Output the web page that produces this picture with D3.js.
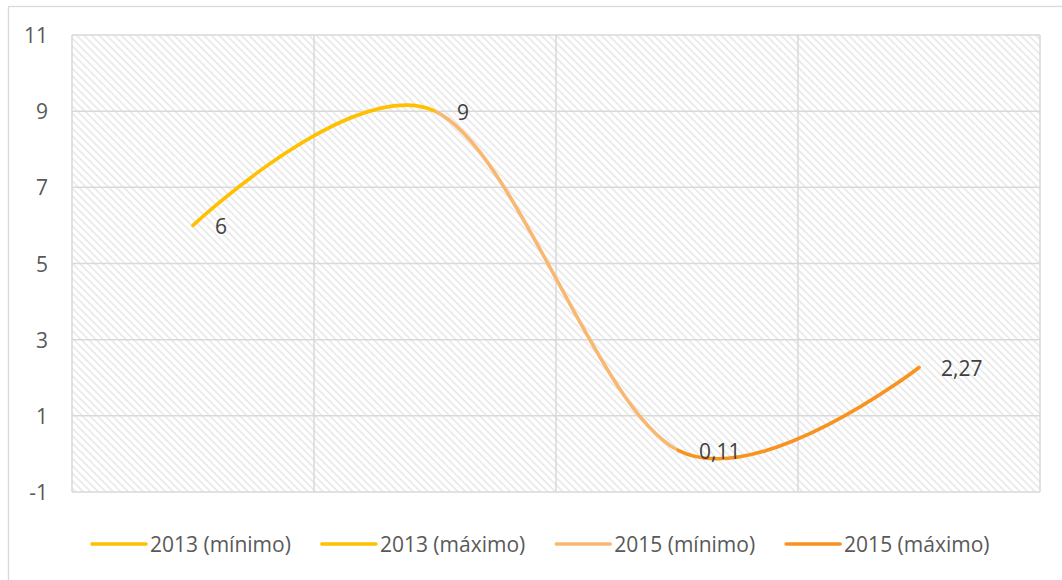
<!DOCTYPE html>
<html>
<head>
<meta charset="utf-8">
<script src="https://cdn.jsdelivr.net/npm/d3@7"></script>
<style>
  body { margin: 0; background: #fff; }
  svg { display: block; }
  text { font-family: "Open Sans", Lato, sans-serif; }
</style>
</head>
<body>
<svg id="chart" width="1062" height="580"></svg>
<script>
// Categories along the x axis and the plotted values
const categories = ["2013 (mínimo)", "2013 (máximo)", "2015 (mínimo)", "2015 (máximo)"];
const values = [6, 9, 0.11, 2.27];
const valueLabels = ["6", "9", "0,11", "2,27"];

// Legend entries and their colours
const seriesNames = ["2013 (mínimo)", "2013 (máximo)", "2015 (mínimo)", "2015 (máximo)"];
const seriesColors = ["#FFC000", "#FFC000", "#F9B872", "#F7931E"];

// Y axis ticks
const yTicks = [-1, 1, 3, 5, 7, 9, 11];

const FONT = 21;
const svg = d3.select("#chart");
const plot = { left: 72, right: 1040, top: 35, bottom: 492 };

// Outer chart frame
svg.append("rect")
  .attr("x", 8.5).attr("y", 6.5)
  .attr("width", 1100).attr("height", 700)
  .attr("fill", "#fff").attr("stroke", "#d9d9d9").attr("stroke-width", 1.3);

const x = d3.scaleBand().domain(categories).range([plot.left, plot.right]).padding(0);
const y = d3.scaleLinear().domain([-1, 11]).range([plot.bottom, plot.top]);
const cx = c => x(c) + x.bandwidth() / 2;

// Diagonal hatch fill for the plot area
const defs = svg.append("defs");
const pat = defs.append("pattern")
  .attr("id", "hatch")
  .attr("patternUnits", "userSpaceOnUse")
  .attr("width", 5.3).attr("height", 5.3)
  .attr("patternTransform", "rotate(45)");
pat.append("line")
  .attr("x1", 0).attr("y1", 2.65).attr("x2", 5.3).attr("y2", 2.65)
  .attr("stroke", "#e0e0e0").attr("stroke-width", 1.2);

svg.append("rect")
  .attr("x", plot.left).attr("y", plot.top)
  .attr("width", plot.right - plot.left).attr("height", plot.bottom - plot.top)
  .attr("fill", "url(#hatch)");

// Horizontal gridlines
svg.append("g")
  .selectAll("line")
  .data(yTicks)
  .join("line")
  .attr("x1", plot.left).attr("x2", plot.right)
  .attr("y1", d => y(d)).attr("y2", d => y(d))
  .attr("stroke", "#d9d9d9").attr("stroke-width", 1.5);

// Vertical gridlines at category boundaries
const bounds = categories.map(c => x(c)).concat([x(categories[categories.length - 1]) + x.bandwidth()]);
svg.append("g")
  .selectAll("line")
  .data(bounds)
  .join("line")
  .attr("x1", d => d).attr("x2", d => d)
  .attr("y1", plot.top).attr("y2", plot.bottom)
  .attr("stroke", "#d9d9d9").attr("stroke-width", 1.5);

// Y tick labels
svg.append("g")
  .selectAll("text")
  .data(yTicks)
  .join("text")
  .attr("x", 48).attr("y", d => y(d))
  .attr("text-anchor", "end")
  .attr("dominant-baseline", "central")
  .attr("font-size", FONT)
  .attr("fill", "#595959")
  .text(d => d);

// Smoothed line, coloured per segment
const pts = categories.map((c, i) => [cx(c), y(values[i])]);
const line = d3.line().curve(d3.curveCardinal.tension(0));
const pathD = line(pts);

for (let i = 0; i < pts.length - 1; i++) {
  const x0 = i === 0 ? 0 : pts[i][0];
  const x1 = i === pts.length - 2 ? 1062 : pts[i + 1][0];
  defs.append("clipPath").attr("id", "seg" + i)
    .append("rect")
    .attr("x", x0).attr("y", 0)
    .attr("width", x1 - x0).attr("height", 580);
  svg.append("path")
    .attr("d", pathD)
    .attr("clip-path", `url(#seg${i})`)
    .attr("fill", "none")
    .attr("stroke", seriesColors[i + 1])
    .attr("stroke-width", 3.6)
    .attr("stroke-linecap", "round");
}

// Data labels to the right of each point
svg.append("g")
  .selectAll("text")
  .data(pts)
  .join("text")
  .attr("x", d => d[0] + 22)
  .attr("y", d => d[1] + 1)
  .attr("dominant-baseline", "central")
  .attr("font-size", FONT)
  .attr("fill", "#404040")
  .text((d, i) => valueLabels[i]);

// Legend
const legend = svg.append("g");
let lx = 92;
const ly = 544;
seriesNames.forEach((name, i) => {
  legend.append("line")
    .attr("x1", lx).attr("x2", lx + 54)
    .attr("y1", ly).attr("y2", ly)
    .attr("stroke", seriesColors[i]).attr("stroke-width", 3.6)
    .attr("stroke-linecap", "round");
  const t = legend.append("text")
    .attr("x", lx + 58).attr("y", ly)
    .attr("dominant-baseline", "central")
    .attr("font-size", FONT)
    .attr("fill", "#595959")
    .text(name);
  lx += 58 + t.node().getComputedTextLength() + 31;
});
</script>
</body>
</html>
